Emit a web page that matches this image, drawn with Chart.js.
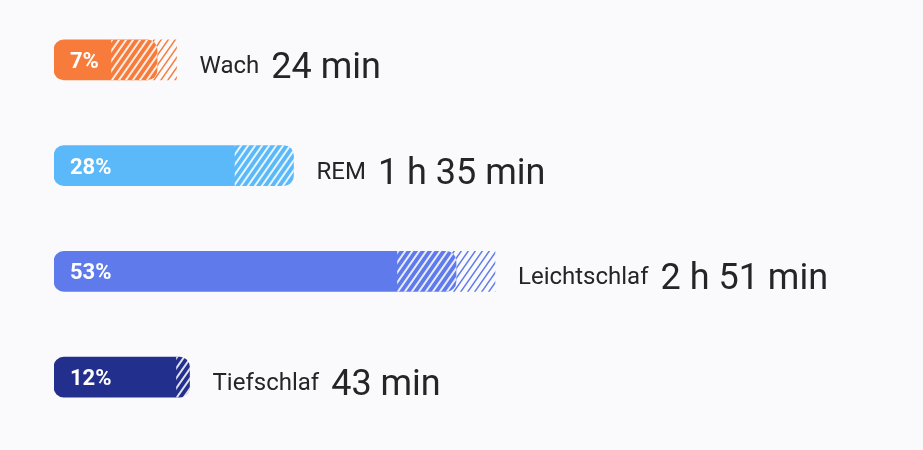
<!DOCTYPE html>
<html>
<head>
<meta charset="utf-8">
<script src="https://cdn.jsdelivr.net/npm/chart.js@4/dist/chart.umd.min.js"></script>
<style>
  html, body { margin: 0; padding: 0; background: #fafafd; }
  #wrap { width: 923px; height: 450px; }
</style>
</head>
<body>
<div id="wrap"><canvas id="chart"></canvas></div>
<script>
const categories = ['Wach', 'REM', 'Leichtschlaf', 'Tiefschlaf'];
const percents = [7, 28, 53, 12];
const durations = ['24 min', '1 h 35 min', '2 h 51 min', '43 min'];
// typical range per stage, in percent
const rangeLow = [0, 19, 44, 10];
const rangeHigh = [10, 28, 59, 12];

const colors = ['#f77b3b', '#5bb9fa', '#5f7beb', '#232f8c'];
const X_MIN = -8.85; // room for the percent label at the start of each bar

function stripes(color, width) {
  const w = 7;
  const h = 10;
  const c = document.createElement('canvas');
  c.width = w;
  c.height = h;
  const ctx = c.getContext('2d');
  ctx.strokeStyle = color;
  ctx.lineWidth = width;
  ctx.beginPath();
  ctx.moveTo(-w, 2 * h); ctx.lineTo(2 * w, -h);
  ctx.moveTo(-2 * w, 2 * h); ctx.lineTo(w, -h);
  ctx.moveTo(0, 2 * h); ctx.lineTo(3 * w, -h);
  ctx.stroke();
  return ctx.createPattern(c, 'repeat');
}

const innerHatch = stripes('rgba(255,255,255,0.85)', 2);
const outerHatch = colors.map((c) => stripes(c, 1.5));

const labelPlugin = {
  id: 'labels',
  afterDatasetsDraw(chart) {
    const { ctx } = chart;
    const xs = chart.scales.x;
    const ys = chart.scales.y;
    ctx.save();
    categories.forEach((name, i) => {
      const y = ys.getPixelForValue(i);
      ctx.textBaseline = 'alphabetic';
      ctx.textAlign = 'left';
      ctx.fillStyle = '#ffffff';
      ctx.font = 'bold 22px Roboto';
      ctx.fillText(`${percents[i]}%`, xs.getPixelForValue(X_MIN) + 16, y + 8);

      let x = xs.getPixelForValue(Math.max(percents[i], rangeHigh[i])) + 23;
      ctx.fillStyle = '#252528';
      ctx.font = '24px Roboto';
      ctx.fillText(name, x, y + 13);
      x += ctx.measureText(name).width + 12;
      ctx.font = '36px Roboto';
      ctx.fillText(durations[i], x, y + 18);
    });
    ctx.restore();
  },
};

new Chart(document.getElementById('chart'), {
  type: 'bar',
  data: {
    labels: categories,
    datasets: [{
      // hatch that sticks out past the bar
      data: percents.map((p, i) => (rangeHigh[i] > p ? [rangeLow[i], rangeHigh[i]] : null)),
      backgroundColor: outerHatch,
      borderWidth: 0,
      borderSkipped: false,
      borderRadius: 0,
      order: 3,
    }, {
      data: percents.map((p) => [X_MIN, p]),
      backgroundColor: colors,
      borderWidth: 0,
      borderSkipped: false,
      borderRadius: 10,
      order: 2,
    }, {
      // hatch over the bar itself
      data: percents.map((p, i) => (rangeLow[i] < p ? [rangeLow[i], Math.min(p, rangeHigh[i])] : null)),
      backgroundColor: innerHatch,
      borderWidth: 0,
      borderSkipped: false,
      borderRadius: (c) => {
        const i = c.dataIndex;
        const r = rangeHigh[i] >= percents[i] ? 10 : 0;
        return { topLeft: 0, bottomLeft: 0, topRight: r, bottomRight: r };
      },
      order: 1,
    }],
  },
  options: {
    indexAxis: 'y',
    responsive: true,
    maintainAspectRatio: false,
    animation: false,
    layout: { padding: { left: 54, right: 0, top: 7, bottom: 20 } },
    datasets: { bar: { grouped: false, barThickness: 40 } },
    scales: {
      x: { display: false, min: X_MIN, max: 124.85 },
      y: { display: false },
    },
    plugins: {
      legend: { display: false },
      tooltip: { enabled: false },
    },
  },
  plugins: [labelPlugin],
});
</script>
</body>
</html>
